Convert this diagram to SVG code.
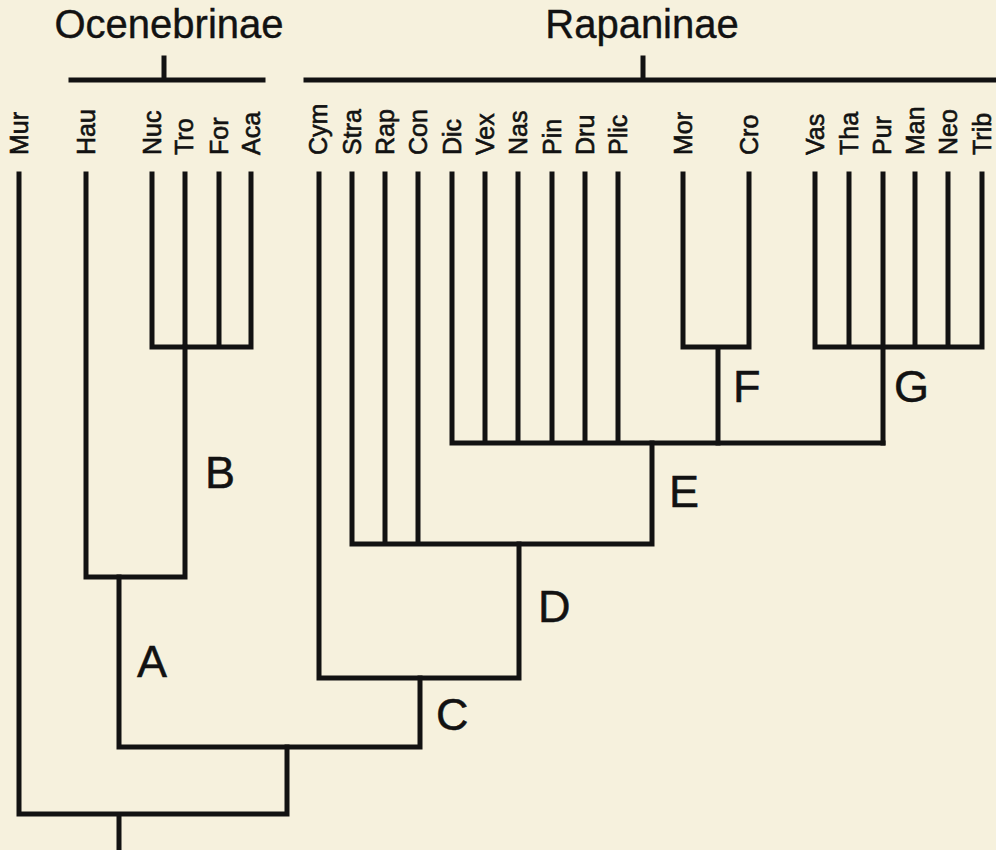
<svg xmlns="http://www.w3.org/2000/svg" width="996" height="850" viewBox="0 0 996 850">
<style>
.bg{fill:#f6f1dd}
.ln{stroke:#121212;stroke-width:5;fill:none;stroke-linecap:square;stroke-linejoin:miter}
.lf{font-family:"Liberation Sans",Arial,sans-serif;font-size:25px;fill:#121212;stroke:#121212;stroke-width:0.6}
.cl{font-family:"Liberation Sans",Arial,sans-serif;font-size:45px;fill:#121212;stroke:#121212;stroke-width:0.5}
.tt{font-family:"Liberation Sans",Arial,sans-serif;font-size:40px;fill:#121212;text-anchor:middle;stroke:#121212;stroke-width:0.4}
</style>
<rect class="bg" x="0" y="0" width="996" height="850"/>
<g id="titles">
<text class="tt" x="169" y="38">Ocenebrinae</text>
<path class="ln" d="M71 80H263M164 58V80"/>
<text class="tt" x="642" y="38">Rapaninae</text>
<path class="ln" d="M306 80H996M643 58V80"/>
</g>
<g id="leaves">
<g id="Mur"><text class="lf" transform="translate(28,155) rotate(-90)">Mur</text></g>
<g id="Hau"><text class="lf" transform="translate(95,155) rotate(-90)">Hau</text></g>
<g id="Nuc"><text class="lf" transform="translate(161,155) rotate(-90)">Nuc</text></g>
<g id="Tro"><text class="lf" transform="translate(193,155) rotate(-90)">Tro</text></g>
<g id="For"><text class="lf" transform="translate(228,155) rotate(-90)">For</text></g>
<g id="Aca"><text class="lf" transform="translate(260,155) rotate(-90)">Aca</text></g>
<g id="Cym"><text class="lf" transform="translate(327,155) rotate(-90)">Cym</text></g>
<g id="Stra"><text class="lf" transform="translate(361,155) rotate(-90)">Stra</text></g>
<g id="Rap"><text class="lf" transform="translate(394,155) rotate(-90)">Rap</text></g>
<g id="Con"><text class="lf" transform="translate(427,155) rotate(-90)">Con</text></g>
<g id="Dic"><text class="lf" transform="translate(461,155) rotate(-90)">Dic</text></g>
<g id="Vex"><text class="lf" transform="translate(494,155) rotate(-90)">Vex</text></g>
<g id="Nas"><text class="lf" transform="translate(527,155) rotate(-90)">Nas</text></g>
<g id="Pin"><text class="lf" transform="translate(561,155) rotate(-90)">Pin</text></g>
<g id="Dru"><text class="lf" transform="translate(594,155) rotate(-90)">Dru</text></g>
<g id="Plic"><text class="lf" transform="translate(627,155) rotate(-90)">Plic</text></g>
<g id="Mor"><text class="lf" transform="translate(692,155) rotate(-90)">Mor</text></g>
<g id="Cro"><text class="lf" transform="translate(758,155) rotate(-90)">Cro</text></g>
<g id="Vas"><text class="lf" transform="translate(824,155) rotate(-90)">Vas</text></g>
<g id="Tha"><text class="lf" transform="translate(858,155) rotate(-90)">Tha</text></g>
<g id="Pur"><text class="lf" transform="translate(891,155) rotate(-90)">Pur</text></g>
<g id="Man"><text class="lf" transform="translate(924,155) rotate(-90)">Man</text></g>
<g id="Neo"><text class="lf" transform="translate(957,155) rotate(-90)">Neo</text></g>
<g id="Trib"><text class="lf" transform="translate(991,155) rotate(-90)">Trib</text></g>
</g>
<g id="clades">
<g id="A"><text class="cl" x="137" y="677">A</text></g>
<g id="B"><text class="cl" x="205" y="488">B</text></g>
<g id="C"><text class="cl" x="436" y="730">C</text></g>
<g id="D"><text class="cl" x="538" y="622">D</text></g>
<g id="E"><text class="cl" x="669" y="507">E</text></g>
<g id="F"><text class="cl" x="733" y="402">F</text></g>
<g id="G"><text class="cl" x="894" y="402">G</text></g>
</g>
<g id="connectors">
<path class="ln" d="M19 174V814H287V747M119 850V814"/>
<path class="ln" d="M119 747H420V678M119 747V577"/>
<path class="ln" d="M86 174V577H185V347"/>
<path class="ln" d="M152 174V347H251V174M185 174V347M219 174V347"/>
<path class="ln" d="M319 174V678H519V544"/>
<path class="ln" d="M352 174V544H652V443M385 174V544M418 174V544"/>
<path class="ln" d="M452 174V443H883M485 174V443M518 174V443M552 174V443M585 174V443M618 174V443"/>
<path class="ln" d="M683 174V347H749V174M718 347V443"/>
<path class="ln" d="M815 174V347H982V174M849 174V347M883 174V443M915 174V347M948 174V347"/>
</g>
</svg>
